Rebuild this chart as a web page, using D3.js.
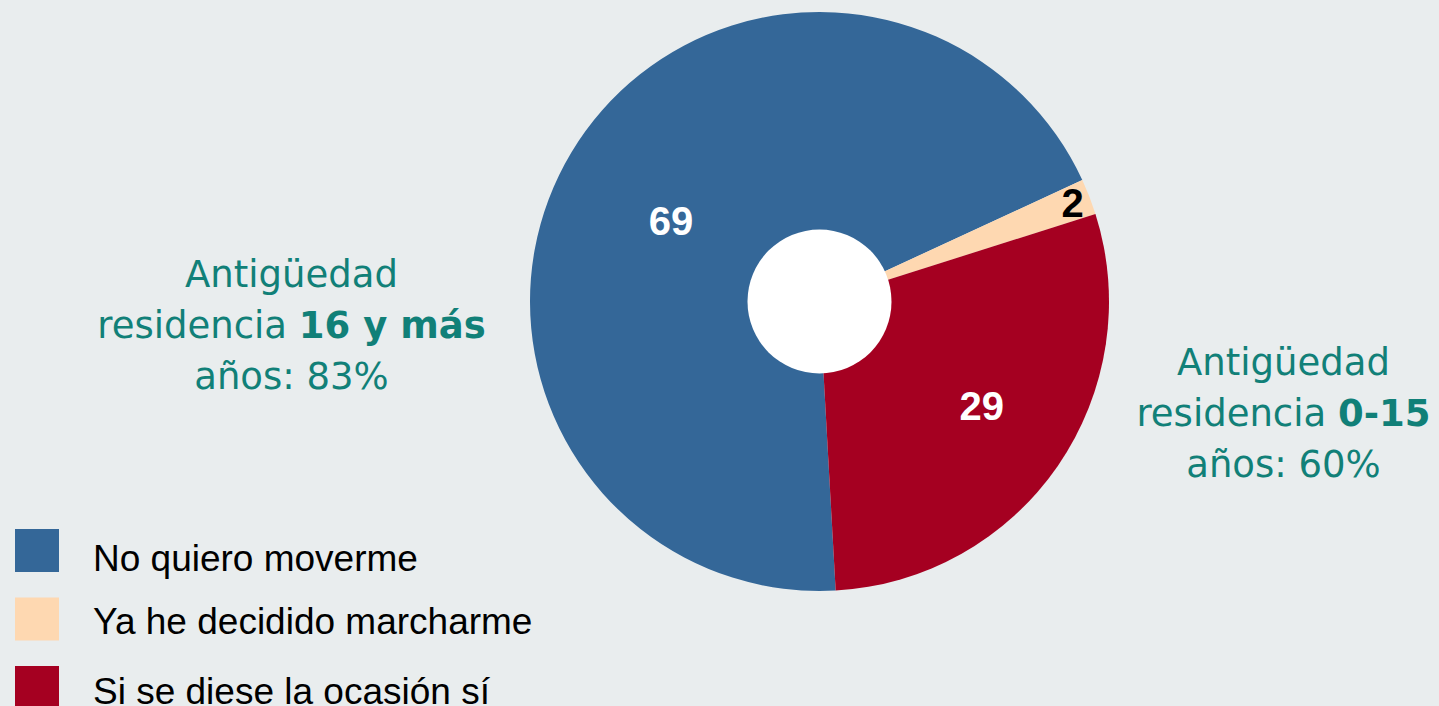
<!DOCTYPE html>
<html>
<head>
<meta charset="utf-8">
<script src="https://cdn.jsdelivr.net/npm/d3@7"></script>
<style>
  html, body { margin: 0; padding: 0; background: #e9edee; overflow: hidden; }
</style>
</head>
<body>
<script>
// donut chart: intención de moverse, por antigüedad de residencia
var categories = ["No quiero moverme", "Ya he decidido marcharme", "Si se diese la ocasión sí"];
var values = [69, 2, 29];
var colors = ["#346798", "#fed8b1", "#a50021"];
var labelColors = ["#ffffff", "#000000", "#ffffff"];

var leftNote = [["Antigüedad", ""], ["residencia ", "16 y más"], ["años: 83%", ""]];
var rightNote = [["Antigüedad", ""], ["residencia ", "0-15"], ["años: 60%", ""]];

var w = 1439, h = 706;
var cx = 819.5, cy = 301.5;
var radius = 289.5, hole = 72;

var svg = d3.select("body").append("svg")
  .attr("width", w)
  .attr("height", h)
  .style("background-color", "#e9edee");

var data = categories.map((c, i) => ({ name: c, value: values[i], color: colors[i], lc: labelColors[i] }));

//* pie layout, blue slice starts just right of the bottom
var start = 176.8 * Math.PI / 180;
var pie = d3.pie().sort(null).value(d => d.value)
  .startAngle(start).endAngle(start + 2 * Math.PI);

var arc = d3.arc().innerRadius(0).outerRadius(radius);
var arcs = pie(data);

var g = svg.append("g").attr("transform", "translate(" + cx + "," + cy + ")");

g.selectAll("path.slice")
  .data(arcs)
  .enter().append("path")
  .attr("class", "slice")
  .attr("d", arc)
  .attr("fill", d => d.data.color);

g.append("circle").attr("r", hole).attr("fill", "#ffffff");

//? number labels, radius + small angle nudge per slice like the original
var labelR = [169, 272, 193];
var labelNudge = [-2.4, -0.2, -1.8];
g.selectAll("text.val")
  .data(arcs)
  .enter().append("text")
  .attr("class", "val")
  .attr("transform", (d, i) => {
    var a = (d.startAngle + d.endAngle) / 2 + labelNudge[i] * Math.PI / 180;
    var x = labelR[i] * Math.sin(a), y = -labelR[i] * Math.cos(a);
    return "translate(" + x + "," + y + ")";
  })
  .attr("text-anchor", "middle")
  .attr("dy", "0.36em")
  .style("font-family", "'Liberation Sans', Arial, sans-serif")
  .style("font-weight", "bold")
  .style("font-size", "40px")
  .attr("fill", d => d.data.lc)
  .text(d => d.data.value);

//* side notes
function note(lines, x, y0) {
  var t = svg.append("text")
    .attr("text-anchor", "middle")
    .style("font-family", "'DejaVu Sans', Verdana, sans-serif")
    .style("font-size", "37px")
    .attr("fill", "#118078");
  lines.forEach((ln, i) => {
    var line = t.append("tspan").attr("x", x).attr("y", y0 + i * 51);
    line.append("tspan").text(ln[0]);
    if (ln[1]) line.append("tspan").style("font-weight", "bold").text(ln[1]);
  });
}
note(leftNote, 291.5, 287);
note(rightNote, 1283.5, 375);

//* legend
var legTextY = [42, 36, 38];
var leg = svg.selectAll("g.leg")
  .data(data)
  .enter().append("g")
  .attr("class", "leg")
  .attr("transform", (d, i) => "translate(15," + (529 + i * 68.5) + ")");

leg.append("rect").attr("width", 44).attr("height", 43).attr("fill", d => d.color);
leg.append("text")
  .attr("x", 78)
  .attr("y", (d, i) => legTextY[i])
  .style("font-family", "'Liberation Sans', Arial, sans-serif")
  .style("font-size", "37px")
  .attr("fill", "#000000")
  .text(d => d.name);
</script>
</body>
</html>
